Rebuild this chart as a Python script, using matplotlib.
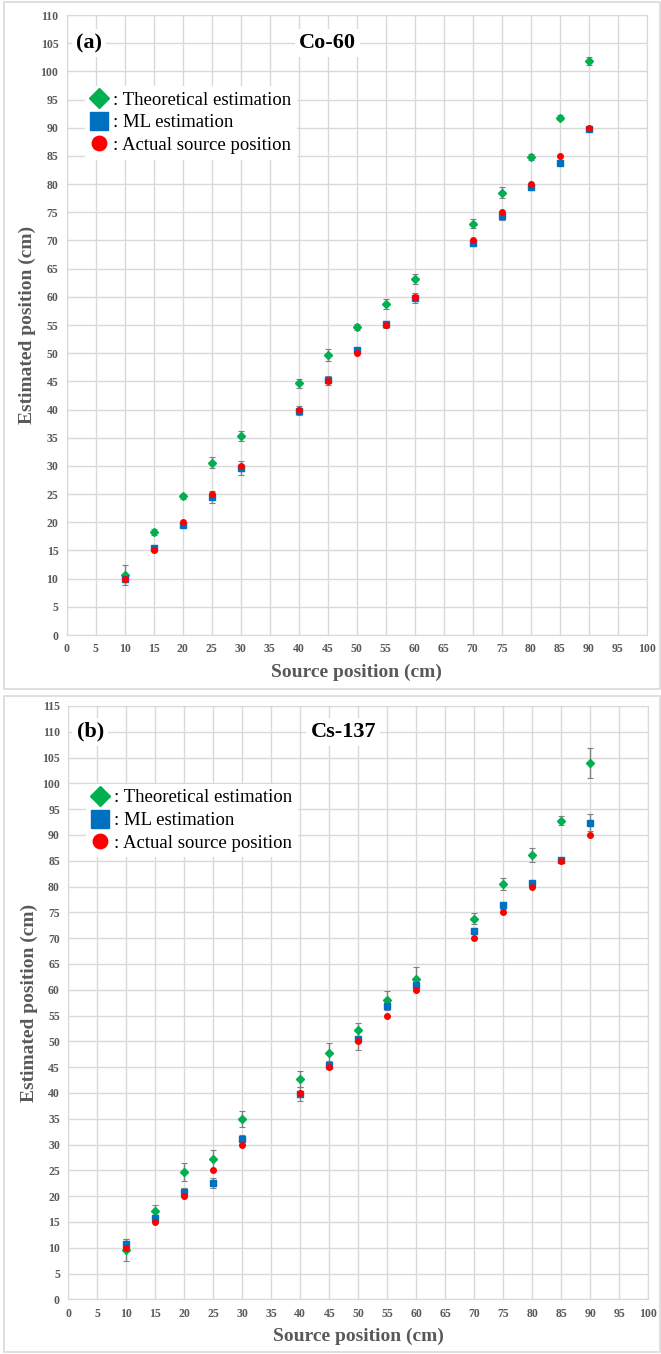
import numpy as np
import matplotlib
matplotlib.use("Agg")
import matplotlib.pyplot as plt
from matplotlib.patches import Rectangle

plt.rcParams['font.family'] = ['Liberation Serif', 'DejaVu Serif']

# source positions (cm)
x = [10, 15, 20, 25, 30, 40, 45, 50, 55, 60, 70, 75, 80, 85, 90]
actual = [10, 15, 20, 25, 30, 40, 45, 50, 55, 60, 70, 75, 80, 85, 90]

# (a) Co-60
co_theo = [10.7, 18.3, 24.6, 30.6, 35.3, 44.7, 49.7, 54.6, 58.8, 63.1, 73.0, 78.5, 84.8, 91.8, 101.8]
co_theo_err = [1.8, 0.5, 0.5, 0.9, 0.9, 0.8, 1.0, 0.5, 0.9, 0.9, 0.8, 1.0, 0.6, 0.4, 0.7]
co_ml = [9.9, 15.4, 19.6, 24.5, 29.6, 39.8, 45.2, 50.5, 55.1, 59.8, 69.5, 74.3, 79.5, 83.8, 89.7]
co_ml_err = [0.5, 0.4, 0.4, 1.0, 1.2, 0.8, 0.8, 0.4, 0.6, 0.9, 0.5, 0.6, 0.5, 0.3, 0.4]

# (b) Cs-137
cs_theo = [9.5, 17.1, 24.7, 27.1, 34.9, 42.7, 47.7, 52.1, 58.1, 62.1, 73.8, 80.5, 86.1, 92.8, 103.9]
cs_theo_err = [2.1, 1.2, 1.7, 1.8, 1.6, 1.5, 1.9, 1.5, 1.6, 2.4, 1.1, 1.2, 1.3, 0.8, 2.9]
cs_ml = [10.8, 15.7, 20.8, 22.5, 31.0, 39.8, 45.4, 50.4, 56.8, 60.9, 71.4, 76.4, 80.6, 85.2, 92.4]
cs_ml_err = [0.8, 0.7, 0.8, 1.0, 0.9, 1.4, 0.8, 2.0, 0.8, 1.2, 0.6, 0.7, 0.6, 0.4, 1.7]

GREEN = '#00b050'
BLUE = '#0070c0'
RED = '#ff0000'
GRAY = '#595959'
GRID = '#d9d9d9'

fig = plt.figure(figsize=(6.61, 13.54), dpi=100)

# chart area frames
fig.add_artist(Rectangle((0.006, 0.4911), 0.992, 0.5074, transform=fig.transFigure,
                         fill=False, edgecolor=GRID, lw=1.2))
fig.add_artist(Rectangle((0.006, 0.0015), 0.992, 0.4845, transform=fig.transFigure,
                         fill=False, edgecolor=GRID, lw=1.2))


def panel(ax, theo, theo_err, ml, ml_err, ymax, tag, name, tag_y, name_x, leg_y):
    ax.errorbar(x, theo, yerr=theo_err, fmt='none', ecolor='#808080', elinewidth=1,
                capsize=2, capthick=0.8, zorder=3)
    ax.errorbar(x, ml, yerr=ml_err, fmt='none', ecolor='#808080', elinewidth=1,
                capsize=2, capthick=0.8, zorder=3)
    ax.plot(x, theo, 'D', color=GREEN, ms=4, mec=GREEN, ls='none', zorder=4,
            label=': Theoretical estimation')
    ax.plot(x, ml, 's', color=BLUE, ms=5, mec=BLUE, ls='none', zorder=5,
            label=': ML estimation')
    ax.plot(x, actual, 'o', color=RED, ms=4, mec=RED, ls='none', zorder=6,
            label=': Actual source position')

    ax.set_xlim(0, 100)
    ax.set_ylim(0, ymax)
    ax.set_xticks(np.arange(0, 101, 5))
    ax.set_yticks(np.arange(0, ymax + 1, 5))
    ax.grid(True, color=GRID, lw=1)
    ax.set_axisbelow(True)
    for s in ax.spines.values():
        s.set_color(GRID)
    ax.tick_params(length=0, labelsize=8.5, labelcolor=GRAY, pad=6)
    for lab in ax.get_xticklabels() + ax.get_yticklabels():
        lab.set_fontweight('bold')
    ax.set_xlabel('Source position (cm)', fontsize=14, fontweight='bold', color=GRAY, labelpad=6)
    ax.set_ylabel('Estimated position (cm)', fontsize=14, fontweight='bold', color=GRAY, labelpad=3)

    ax.text(3.8, tag_y, tag, fontsize=16, fontweight='bold', ha='center', va='center',
            bbox=dict(facecolor='white', edgecolor='none', pad=3), zorder=7)
    ax.text(name_x, tag_y, name, fontsize=16, fontweight='bold', ha='center', va='center',
            bbox=dict(facecolor='white', edgecolor='none', pad=3), zorder=7)

    leg = ax.legend(loc='upper left', bbox_to_anchor=(0.015, leg_y), fontsize=13.5,
                    markerscale=2.6, handlelength=0.9, handletextpad=0.3,
                    labelspacing=0.3, borderpad=0.3, frameon=True, fancybox=False)
    leg.get_frame().set_edgecolor('none')
    leg.get_frame().set_facecolor('white')
    leg.get_frame().set_alpha(1)
    leg.set_zorder(8)


ax1 = fig.add_axes([0.1009, 0.5310, 0.8775, 0.4579])
panel(ax1, co_theo, co_theo_err, co_ml, co_ml_err, 110, '(a)', 'Co-60', 105, 45, 0.901)

ax2 = fig.add_axes([0.1033, 0.0404, 0.8775, 0.4382])
panel(ax2, cs_theo, cs_theo_err, cs_ml, cs_ml_err, 115, '(b)', 'Cs-137', 110, 47.4, 0.885)

fig.savefig('out.png', dpi=100)
